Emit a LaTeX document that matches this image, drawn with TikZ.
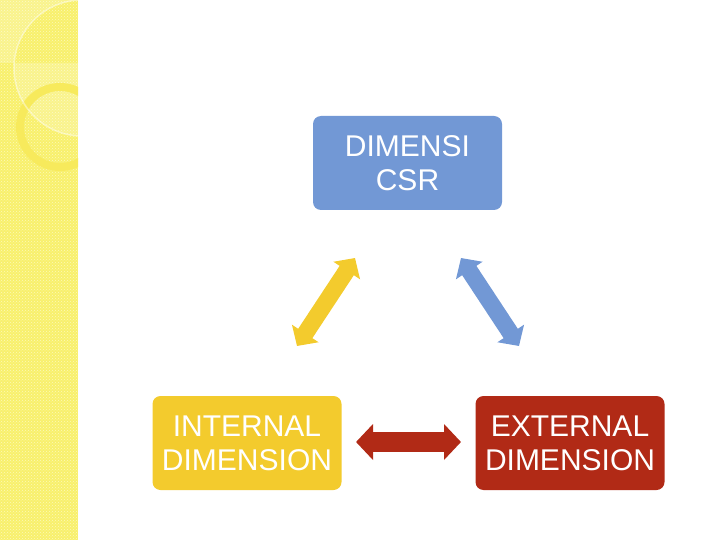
\documentclass[tikz,border=0pt]{standalone}
\usepackage{fontspec}
\setmainfont{Liberation Sans}
\usetikzlibrary{arrows.meta, patterns}

\definecolor{csrblue}{RGB}{114,152,213}
\definecolor{csryellow}{RGB}{243,203,45}
\definecolor{csrred}{RGB}{177,42,22}
\definecolor{stripyellow}{RGB}{248,240,108}
\definecolor{stripdots}{RGB}{252,249,185}
\definecolor{stripring}{RGB}{247,234,92}

\begin{document}
\begin{tikzpicture}[x=1pt, y=-1pt,
    box/.style={rounded corners=8pt, minimum width=189pt, minimum height=94pt,
                text=white, align=center, inner sep=0pt,
                font=\fontsize{30}{34}\selectfont},
    dblarrow/.style={line width=17pt, {Triangle[width=31pt, length=15pt]}-{Triangle[width=31pt, length=15pt]}}]
    \useasboundingbox (0,0) rectangle (720,540);
    % side strip
    \begin{scope}
        \clip (0,0) rectangle (78,540);
        \fill[stripyellow] (0,0) rectangle (78,540);
        \fill[pattern=crosshatch dots, pattern color=stripdots] (0,0) rectangle (78,540);
        \fill[white, opacity=0.22, even odd rule] (0,0) rectangle (78,63) (82,68) circle (68);
        \draw[stripring, line width=8pt] (60,127) circle (40);
        \draw[white, opacity=0.45, line width=1.5pt] (82,68) circle (68);
    \end{scope}
    % boxes
    \node[box, fill=csrblue] (csr) at (407.5,163) {DIMENSI\\CSR};
    \node[box, fill=csryellow] (internal) at (247,443) {INTERNAL\\DIMENSION};
    \node[box, fill=csrred] (external) at (570,443) {EXTERNAL\\DIMENSION};
    % arrows
    \coordinate (yTop) at (355,258); \coordinate (yBot) at (297,346);
    \coordinate (bTop) at (461,258); \coordinate (bBot) at (519,346);
    \coordinate (rLeft) at (356,442); \coordinate (rRight) at (461,442);
    \draw[dblarrow, csryellow] (yTop) -- (yBot);
    \draw[dblarrow, csrblue] (bTop) -- (bBot);
    \draw[dblarrow, csrred, line width=20pt, {Triangle[width=35pt, length=17pt]}-{Triangle[width=35pt, length=17pt]}] (rLeft) -- (rRight);
\end{tikzpicture}
\end{document}
